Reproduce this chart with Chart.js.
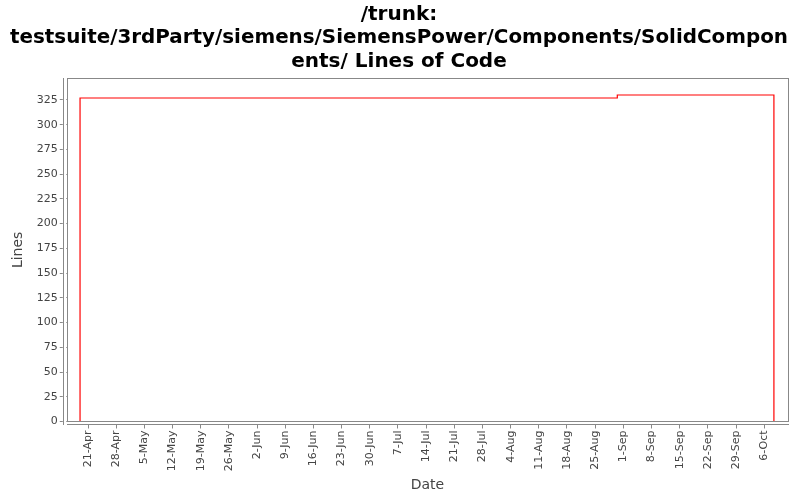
<!DOCTYPE html>
<html>
<head>
<meta charset="utf-8">
<script src="https://cdn.jsdelivr.net/npm/chart.js@4.4.1/dist/chart.umd.min.js"></script>
<style>
  html, body { margin: 0; padding: 0; background: #fff; }
</style>
</head>
<body>
<canvas id="myChart" width="800" height="500"></canvas>
<script>
// line of code counts over time (stepped)
const dates = ['2008-04-19', '2008-04-19', '2008-08-30T12:00', '2008-10-08T10:00', '2008-10-08T10:00'];
const lines = [0, 327, 330, 330, 0];

const tickLabels = ['21-Apr', '28-Apr', '5-May', '12-May', '19-May', '26-May', '2-Jun', '9-Jun',
    '16-Jun', '23-Jun', '30-Jun', '7-Jul', '14-Jul', '21-Jul', '28-Jul', '4-Aug', '11-Aug',
    '18-Aug', '25-Aug', '1-Sep', '8-Sep', '15-Sep', '22-Sep', '29-Sep', '6-Oct'];
const yearOfData = 2008;
const xMin = '2008-04-15T17:00';
const xMax = '2008-10-11T22:00';

const months = ['Jan', 'Feb', 'Mar', 'Apr', 'May', 'Jun', 'Jul', 'Aug', 'Sep', 'Oct', 'Nov', 'Dec'];
const DAY = 86400000;

function toDay(s) {
    return Date.parse(s + (s.length === 10 ? 'T00:00Z' : 'Z')) / DAY;
}
function labelToDay(lbl) {
    let parts = lbl.split('-');
    return Date.UTC(yearOfData, months.indexOf(parts[1]), parseInt(parts[0])) / DAY;
}

const tickDays = tickLabels.map(labelToDay);
const points = dates.map((d, i) => ({ x: toDay(d), y: lines[i] }));

const frameColor = '#888888';
const textColor = '#444444';

// draws the plot frame and the axis lines set off from it
const framePlugin = {
    id: 'frame',
    afterDraw(chart) {
        let c = chart.ctx;
        let a = chart.chartArea;
        c.save();
        // clear the gap between frame and axis lines
        c.fillStyle = '#fff';
        c.fillRect(a.left, a.bottom + 0.5, a.right - a.left + 1, 3);
        c.fillRect(a.left - 4, a.top, 3.5, a.bottom - a.top + 4);
        c.strokeStyle = frameColor;
        c.lineWidth = 1;
        c.strokeRect(Math.round(a.left) + 0.5, Math.round(a.top) + 0.5,
            Math.round(a.right - a.left), Math.round(a.bottom - a.top));
        c.beginPath();
        c.moveTo(Math.round(a.left) - 3.5, Math.round(a.top));
        c.lineTo(Math.round(a.left) - 3.5, Math.round(a.bottom) + 4);
        c.moveTo(Math.round(a.left), Math.round(a.bottom) + 3.5);
        c.lineTo(Math.round(a.right) + 1, Math.round(a.bottom) + 3.5);
        c.stroke();
        c.restore();
    }
};

let ctx = document.getElementById('myChart').getContext('2d');
let myChart = new Chart(ctx, {
    type: 'line',
    data: {
        datasets: [{
            data: points,
            borderColor: '#ff0000',
            borderWidth: 1.2,
            pointRadius: 0,
            stepped: 'before',
            fill: false
        }]
    },
    plugins: [framePlugin],
    options: {
        responsive: false,
        animation: false,
        devicePixelRatio: 1,
        layout: {
            padding: { left: 10, right: 12, top: 0, bottom: 6 }
        },
        plugins: {
            legend: { display: false },
            tooltip: { enabled: false },
            title: {
                display: true,
                text: ['/trunk:', 'testsuite/3rdParty/siemens/SiemensPower/Components/SolidCompon', 'ents/ Lines of Code'],
                color: '#000',
                font: { family: 'DejaVu Sans', size: 20, weight: 'bold', lineHeight: 1.17 },
                padding: { top: 3, bottom: 5 }
            }
        },
        scales: {
            x: {
                type: 'linear',
                min: toDay(xMin),
                max: toDay(xMax),
                afterBuildTicks: (axis) => {
                    axis.ticks = tickDays.map(v => ({ value: v }));
                },
                ticks: {
                    autoSkip: false,
                    maxRotation: 90,
                    minRotation: 90,
                    padding: 2,
                    color: textColor,
                    font: { family: 'DejaVu Sans', size: 11 },
                    callback: (v) => {
                        let i = tickDays.indexOf(v);
                        return i >= 0 ? tickLabels[i] : '';
                    }
                },
                grid: {
                    display: true,
                    drawOnChartArea: false,
                    drawTicks: true,
                    tickLength: 7,
                    color: frameColor
                },
                border: { display: false },
                title: {
                    display: true,
                    text: 'Date',
                    color: textColor,
                    font: { family: 'DejaVu Sans', size: 14 },
                    padding: { top: 4, bottom: 0 }
                }
            },
            y: {
                min: 0,
                max: 347,
                ticks: {
                    stepSize: 25,
                    padding: 2,
                    color: textColor,
                    font: { family: 'DejaVu Sans', size: 11 }
                },
                afterBuildTicks: (axis) => {
                    let t = [];
                    for (let v = 0; v <= 325; v += 25) t.push({ value: v });
                    axis.ticks = t;
                },
                grid: {
                    display: true,
                    drawOnChartArea: false,
                    drawTicks: true,
                    tickLength: 7,
                    color: frameColor
                },
                border: { display: false },
                title: {
                    display: true,
                    text: 'Lines',
                    color: textColor,
                    font: { family: 'DejaVu Sans', size: 14 },
                    padding: { top: 0, bottom: 8 }
                }
            }
        }
    }
});
</script>
</body>
</html>
